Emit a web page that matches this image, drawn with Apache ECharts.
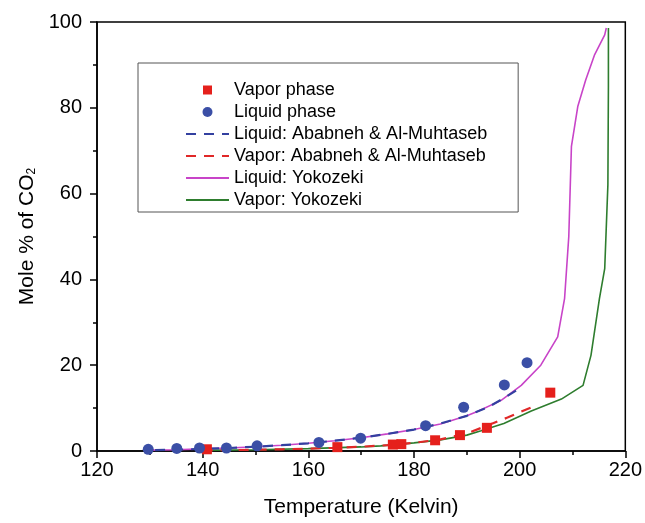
<!DOCTYPE html>
<html>
<head>
<meta charset="utf-8">
<script src="https://cdn.jsdelivr.net/npm/echarts@6/dist/echarts.min.js"></script>
<style>html,body{margin:0;padding:0;background:#fff;}#c{width:645px;height:523px;}</style>
</head>
<body>
<div id="c"></div>
<script>
// Data (Temperature K, Mole % CO2)
const vaporPhase = [[140.8,0.4],[165.5,0.9],[176.0,1.5],[177.6,1.6],[184.0,2.5],[188.7,3.7],[193.8,5.4],[205.8,13.6]];
const liquidPhase = [[129.7,0.4],[135.1,0.6],[139.4,0.7],[144.5,0.7],[150.3,1.2],[162.0,2.0],[169.9,3.0],[182.2,5.9],[189.4,10.2],[197.1,15.4],[201.4,20.6]];
const liquidAbabneh = [[131,0.2],[135,0.3],[140,0.5],[145,0.7],[150,1.0],[155,1.35],[160,1.8],[165,2.4],[170,3.1],[175,4.0],[180,5.0],[185,6.4],[190,8.2],[194,10.2],[197,12.3],[200,14.6]];
const vaporAbabneh = [[140,0.15],[145,0.2],[150,0.3],[155,0.4],[160,0.55],[165,0.75],[170,1.0],[175,1.35],[180,1.9],[185,2.7],[190,4.1],[194,6.0],[197.7,7.8],[203.4,10.8]];
const liquidYokozeki = [[130,0.2],[135,0.3],[140,0.5],[145,0.7],[150,1.0],[155,1.35],[160,1.8],[165,2.4],[170,3.1],[175,4.0],[180,5.0],[185,6.3],[190,8.2],[192,9.2],[196.5,11.8],[200.3,15.3],[204,20.0],[207.2,26.6],[208.5,35.5],[209.3,50],[209.8,71],[211,80.3],[212.5,86.5],[214.2,92.4],[216.1,97],[216.4,98.6]];
const vaporYokozeki = [[140,0.15],[150,0.3],[160,0.55],[170,0.95],[173.7,1.2],[180,1.9],[185,2.6],[190,3.7],[192.7,4.7],[197,6.4],[202.2,9.3],[207.9,12.1],[212,15.3],[213.5,22.3],[215.1,35.5],[216.1,42.5],[216.7,62],[216.8,85],[216.8,98.6]];
const xTicks = {min:120, max:220, interval:20};
const yTicks = {min:0, max:100, interval:20};

const font = 'Liberation Sans, Arial, sans-serif';
const noSym = {opacity:0};
const chart = echarts.init(document.getElementById('c'));
chart.setOption({
  animation:false,
  backgroundColor:'#fff',
  grid:{left:97, right:19, top:22, bottom:71, show:true, borderColor:'#000', borderWidth:1.5, backgroundColor:'transparent'},
  legend:{
    orient:'vertical', left:138, top:63,
    padding:[18,31,3,47], itemGap:4, itemWidth:43, itemHeight:14,
    borderColor:'#555', borderWidth:1,
    textStyle:{fontFamily:font, fontSize:18, color:'#000'},
    data:[
      {name:'Vapor phase', icon:'path://M0,0M14,14M2.5,2.5H11.5V11.5H2.5Z'},
      {name:'Liquid phase', icon:'path://M0,0M14,14M2,7A5,5,0,1,1,12,7A5,5,0,1,1,2,7Z'},
      {name:'Liquid: Ababneh & Al-Muhtaseb', itemStyle:noSym},
      {name:'Vapor: Ababneh & Al-Muhtaseb', itemStyle:noSym},
      {name:'Liquid: Yokozeki', itemStyle:noSym},
      {name:'Vapor: Yokozeki', itemStyle:noSym}
    ]
  },
  xAxis:{
    type:'value', min:xTicks.min, max:xTicks.max, interval:xTicks.interval,
    name:'Temperature (Kelvin)', nameLocation:'middle', nameGap:46,
    nameTextStyle:{fontFamily:font, fontSize:21, color:'#000'},
    axisLine:{lineStyle:{color:'#000', width:1.5}},
    axisTick:{inside:false, length:7, lineStyle:{color:'#000', width:1.5}},
    minorTick:{show:true, splitNumber:2, length:4, lineStyle:{color:'#000', width:1.5}},
    splitLine:{show:false},
    axisLabel:{fontFamily:font, fontSize:20, color:'#000', margin:9}
  },
  yAxis:{
    type:'value', min:yTicks.min, max:yTicks.max, interval:yTicks.interval,
    name:'{a|Mole % of CO}{b|2}', nameLocation:'middle', nameGap:58,
    nameTextStyle:{fontFamily:font, fontSize:21, color:'#000', rich:{a:{fontFamily:font, fontSize:21, color:'#000'}, b:{fontFamily:font, fontSize:12, color:'#000', padding:[10,0,0,0]}}},
    axisLine:{lineStyle:{color:'#000', width:1.5}},
    axisTick:{inside:false, length:7, lineStyle:{color:'#000', width:1.5}},
    minorTick:{show:true, splitNumber:2, length:4, lineStyle:{color:'#000', width:1.5}},
    splitLine:{show:false},
    axisLabel:{fontFamily:font, fontSize:20, color:'#000', margin:15}
  },
  series:[
    {name:'Vapor phase', type:'scatter', data:vaporPhase, symbol:'rect', symbolSize:10, itemStyle:{color:'#e5201c', opacity:1}, z:5},
    {name:'Liquid phase', type:'scatter', data:liquidPhase, symbol:'circle', symbolSize:11, itemStyle:{color:'#3b4fa6', opacity:1}, z:5},
    {name:'Liquid: Ababneh & Al-Muhtaseb', type:'line', data:liquidAbabneh, showSymbol:false, symbol:'none', lineStyle:{color:'#3340a0', width:2.2, type:[10,8]}, itemStyle:{color:'#3340a0'}, z:3},
    {name:'Vapor: Ababneh & Al-Muhtaseb', type:'line', data:vaporAbabneh, showSymbol:false, symbol:'none', lineStyle:{color:'#e02828', width:2.2, type:[10,8]}, itemStyle:{color:'#e02828'}, z:3},
    {name:'Liquid: Yokozeki', type:'line', data:liquidYokozeki, showSymbol:false, symbol:'none', lineStyle:{color:'#c844c8', width:1.6}, itemStyle:{color:'#c844c8'}, z:2},
    {name:'Vapor: Yokozeki', type:'line', data:vaporYokozeki, showSymbol:false, symbol:'none', lineStyle:{color:'#2e7d2e', width:1.6}, itemStyle:{color:'#2e7d2e'}, z:2}
  ]
});
</script>
</body>
</html>
